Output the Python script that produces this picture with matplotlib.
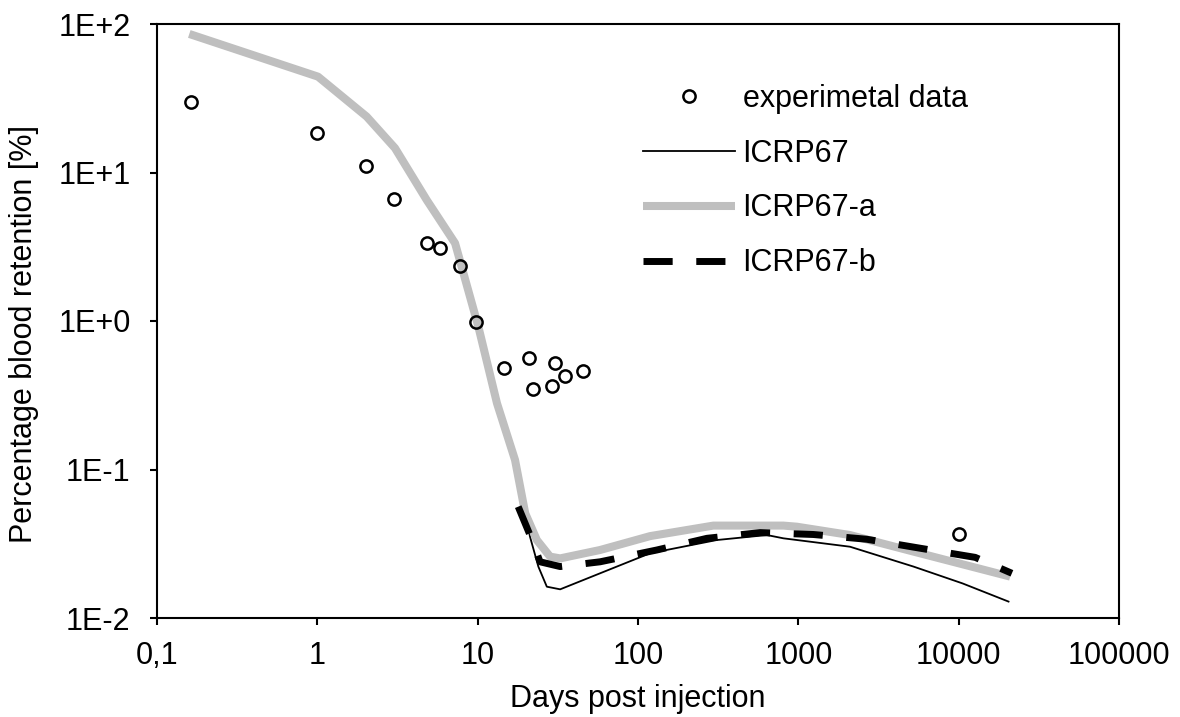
import matplotlib
matplotlib.use("Agg")
import matplotlib.pyplot as plt
from matplotlib.ticker import FixedLocator, FixedFormatter, NullLocator

plt.rcParams['font.family'] = ['Liberation Sans', 'DejaVu Sans']
plt.rcParams['lines.scale_dashes'] = False

# Experimental data
exp_x = [0.164, 1.0, 2.0, 3.0, 4.8, 5.8, 7.8, 9.7, 14.6, 21, 22, 30.4, 29.2, 35.2, 45.6, 10100]
exp_y = [30.0, 18.5, 11.1, 6.6, 3.37, 3.09, 2.36, 0.985, 0.48, 0.566, 0.348, 0.519, 0.365, 0.426, 0.463, 0.0366]

# ICRP67 (thin black)
icrp_x = [17.1, 19.8, 21.2, 23.9, 27, 32.7, 58, 119, 310, 637, 807, 2100, 5224, 10570, 20460]
icrp_y = [0.116, 0.0507, 0.0353, 0.0222, 0.01625, 0.0156, 0.020, 0.0273, 0.0335, 0.0362, 0.0344, 0.0302, 0.0222, 0.0171, 0.0129]

# ICRP67-a (gray)
a_x = [0.159, 1.01, 2.03, 3.05, 4.81, 7.23, 10.1, 13.2, 17.1, 19.8, 23.4, 28.3, 32.7, 58, 119, 295, 807, 978, 2100, 5224, 20950]
a_y = [85.7, 44.2, 23.8, 14.6, 6.53, 3.34, 0.916, 0.279, 0.116, 0.0507, 0.0335, 0.0259, 0.0252, 0.0287, 0.0356, 0.0419, 0.0419, 0.0412, 0.0362, 0.028, 0.019]

# ICRP67-b (dashed)
b_x = [17.9, 21.2, 24.5, 32.7, 58, 131, 269, 578, 1242, 2675, 5754, 12680, 21480]
b_y = [0.0562, 0.0362, 0.0239, 0.0222, 0.0239, 0.0287, 0.0344, 0.0376, 0.0365, 0.0339, 0.0295, 0.0256, 0.020]

x_ticks = [0.1, 1, 10, 100, 1000, 10000, 100000]
x_labels = ["0,1", "1", "10", "100", "1000", "10000", "100000"]
y_ticks = [0.01, 0.1, 1, 10, 100]
y_labels = ["1E-2", "1E-1", "1E+0", "1E+1", "1E+2"]

FS = 22

fig = plt.figure(figsize=(11.8, 7.17), dpi=100)
ax = fig.add_axes([157/1180, 1-618/717, (1119-157)/1180, (618-24)/717])

ax.plot(icrp_x, icrp_y, color='black', lw=1.3, label='ICRP67', zorder=2)
ax.plot(a_x, a_y, color='#bfbfbf', lw=5.8, label='ICRP67-a', zorder=3, solid_capstyle='butt')
ax.plot(b_x, b_y, color='black', lw=5.0, label='ICRP67-b', zorder=4,
        dashes=(21, 17), dash_capstyle='butt')
ax.plot(exp_x, exp_y, linestyle='none', marker='o', ms=8.8, mfc='none', mec='black',
        mew=1.8, label='experimetal data', zorder=5)

ax.set_xscale('log')
ax.set_yscale('log')
ax.set_xlim(0.1, 100000)
ax.set_ylim(0.01, 100)
ax.xaxis.set_major_locator(FixedLocator(x_ticks))
ax.xaxis.set_major_formatter(FixedFormatter(x_labels))
ax.xaxis.set_minor_locator(NullLocator())
ax.yaxis.set_major_locator(FixedLocator(y_ticks))
ax.yaxis.set_major_formatter(FixedFormatter(y_labels))
ax.yaxis.set_minor_locator(NullLocator())

for s in ax.spines.values():
    s.set_linewidth(1.5)
ax.tick_params(axis='both', which='major', direction='out', length=5, width=1.5,
               labelsize=FS, colors='black')
ax.tick_params(axis='x', pad=11.5)
ax.tick_params(axis='y', pad=14)

ax.set_xlabel('Days post injection', fontsize=FS)
ax.xaxis.set_label_coords(0.5, -0.111)
ax.xaxis.label.set_va('top')
ax.set_ylabel('Percentage blood retention [%]', fontsize=FS)
ax.yaxis.set_label_coords(-0.1227, 0.478)

h, l = ax.get_legend_handles_labels()
order = [3, 0, 1, 2]
leg = ax.legend([h[i] for i in order], [l[i] for i in order], loc='upper left',
                bbox_to_anchor=((643-157)/962, (618-84)/594), frameon=False,
                fontsize=FS, handlelength=3.0, handletextpad=0.26, labelspacing=0.81,
                numpoints=1, borderaxespad=0, borderpad=0)

fig.savefig('out.png', dpi=100)
